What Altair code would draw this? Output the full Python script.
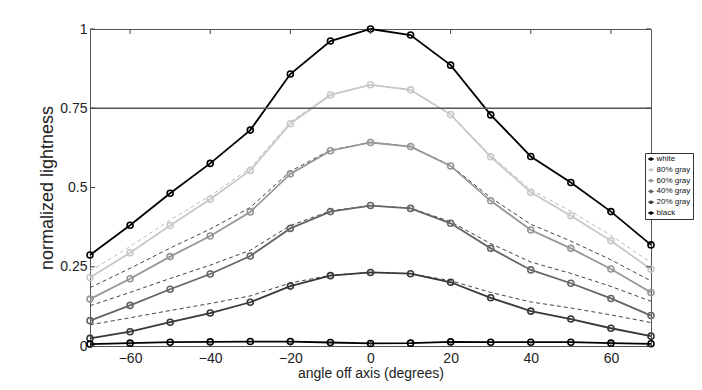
import altair as alt
import pandas as pd

angles = [-70, -60, -50, -40, -30, -20, -10, 0, 10, 20, 30, 40, 50, 60, 70]

white = [0.287, 0.381, 0.482, 0.576, 0.681, 0.858, 0.962, 1.000, 0.981, 0.886, 0.729, 0.598, 0.516, 0.424, 0.319]
gray80 = [0.216, 0.294, 0.380, 0.463, 0.554, 0.701, 0.792, 0.824, 0.808, 0.730, 0.597, 0.485, 0.411, 0.332, 0.242]
gray60 = [0.148, 0.212, 0.282, 0.347, 0.423, 0.543, 0.616, 0.642, 0.629, 0.568, 0.458, 0.366, 0.308, 0.243, 0.169]
gray40 = [0.080, 0.128, 0.179, 0.227, 0.284, 0.371, 0.424, 0.443, 0.434, 0.387, 0.308, 0.240, 0.198, 0.150, 0.096]
gray20 = [0.024, 0.045, 0.075, 0.104, 0.138, 0.189, 0.222, 0.232, 0.228, 0.201, 0.152, 0.110, 0.085, 0.056, 0.031]
black = [0.006, 0.009, 0.012, 0.013, 0.014, 0.014, 0.011, 0.008, 0.009, 0.013, 0.012, 0.012, 0.012, 0.009, 0.007]

ref80 = [0.236, 0.314, 0.397, 0.474, 0.561, 0.707, 0.793, 0.824, 0.808, 0.730, 0.601, 0.493, 0.425, 0.349, 0.263]
ref60 = [0.184, 0.245, 0.309, 0.369, 0.437, 0.551, 0.618, 0.642, 0.630, 0.569, 0.468, 0.384, 0.331, 0.272, 0.205]
ref40 = [0.127, 0.169, 0.213, 0.255, 0.302, 0.380, 0.426, 0.443, 0.435, 0.392, 0.323, 0.265, 0.229, 0.188, 0.141]
ref20 = [0.067, 0.089, 0.112, 0.134, 0.158, 0.199, 0.223, 0.232, 0.228, 0.206, 0.169, 0.139, 0.120, 0.098, 0.074]

series_names = ["white", "80% gray", "60% gray", "40% gray", "20% gray", "black"]
series_colors = ["#000000", "#c8c8c8", "#969696", "#666666", "#383838", "#000000"]

x_ticks = [-60, -40, -20, 0, 20, 40, 60]
y_ticks = [0, 0.25, 0.5, 0.75, 1]
threshold = [0.75]

W, H = 561, 317
FONT = "Liberation Sans"

rows = []
for name, vals in zip(series_names, [white, gray80, gray60, gray40, gray20, black]):
    for a, v in zip(angles, vals):
        rows.append({"angle": a, "value": v, "series": name})
df = pd.DataFrame(rows)

ref_rows = []
for name, vals in zip(["r80", "r60", "r40", "r20"], [ref80, ref60, ref40, ref20]):
    for a, v in zip(angles, vals):
        ref_rows.append({"angle": a, "value": v, "ref": name})
dref = pd.DataFrame(ref_rows)

xs = alt.Scale(domain=[-70, 70], nice=False, zero=False)
ys = alt.Scale(domain=[0, 1], nice=False, zero=False)

color = alt.Scale(domain=series_names, range=series_colors)
sym = "M-1,0H1M-0.42,0A0.42,0.42 0 1,0 0.42,0A0.42,0.42 0 1,0 -0.42,0"

base_x = alt.X("angle:Q", scale=xs, title="angle off axis (degrees)",
               axis=alt.Axis(values=x_ticks, labelFontSize=14, titleFontSize=14,
                             labelPadding=5, titleY=20, titleBaseline="top",
                             titleFontWeight="normal"))
base_y = alt.Y("value:Q", scale=ys, title="normalized lightness",
               axis=alt.Axis(values=y_ticks, format=".2~f", labelFontSize=14, titleFontSize=18,
                             labelPadding=3, titlePadding=3, titleFontWeight="normal"))

thr = alt.Chart(pd.DataFrame({"value": threshold})).mark_rule(
    color="#555555", strokeWidth=1.3).encode(y=base_y)

dash80 = alt.Chart(dref[dref["ref"] == "r80"]).mark_line(
    color="#bdbdbd", strokeWidth=1, strokeDash=[4, 3]).encode(x=base_x, y=base_y)
dash_rest = alt.Chart(dref[dref["ref"] != "r80"]).mark_line(
    color="#444444", strokeWidth=1, strokeDash=[4, 3]).encode(x=base_x, y=base_y, detail="ref:N")

lines = alt.Chart(df).mark_line(strokeWidth=1.8).encode(
    x=base_x, y=base_y,
    color=alt.Color("series:N", scale=color, sort=series_names,
                    legend=alt.Legend(orient="none", legendX=555, legendY=124, title=None,
                                      labelFontSize=8, labelFont=FONT, symbolType=sym,
                                      symbolSize=30, symbolStrokeWidth=1.3, rowPadding=2.8,
                                      padding=2, labelOffset=1.5, strokeColor="#333333",
                                      fillColor="white", labelColor="#111111")))

points = alt.Chart(df).mark_point(filled=False, size=36, strokeWidth=1.6, opacity=1).encode(
    x=base_x, y=base_y,
    color=alt.Color("series:N", scale=color, sort=series_names, legend=None))

tx = pd.DataFrame({"angle": x_ticks})
ty = pd.DataFrame({"value": y_ticks})
tick_col = "#444444"
tb = alt.Chart(tx).mark_rule(color=tick_col).encode(x=base_x, y=alt.value(H), y2=alt.value(H - 5))
tt = alt.Chart(tx).mark_rule(color=tick_col).encode(x=base_x, y=alt.value(0), y2=alt.value(5))
tl = alt.Chart(ty).mark_rule(color=tick_col).encode(y=base_y, x=alt.value(0), x2=alt.value(5))
tr = alt.Chart(ty).mark_rule(color=tick_col).encode(y=base_y, x=alt.value(W), x2=alt.value(W - 5))

chart = alt.layer(dash80, dash_rest, lines, points, thr, tb, tt, tl, tr).properties(
    width=W, height=H,
    autosize=alt.AutoSizeParams(type="none"),
    padding={"left": 82, "top": 21, "right": 43, "bottom": 36},
).configure_view(stroke="#555555", strokeWidth=1).configure_axis(
    grid=False, domain=False, ticks=False, labelFont=FONT, titleFont=FONT,
    labelColor="#222222", titleColor="#222222")

chart.save("out.html", embed_options={"renderer": "svg", "actions": False})
